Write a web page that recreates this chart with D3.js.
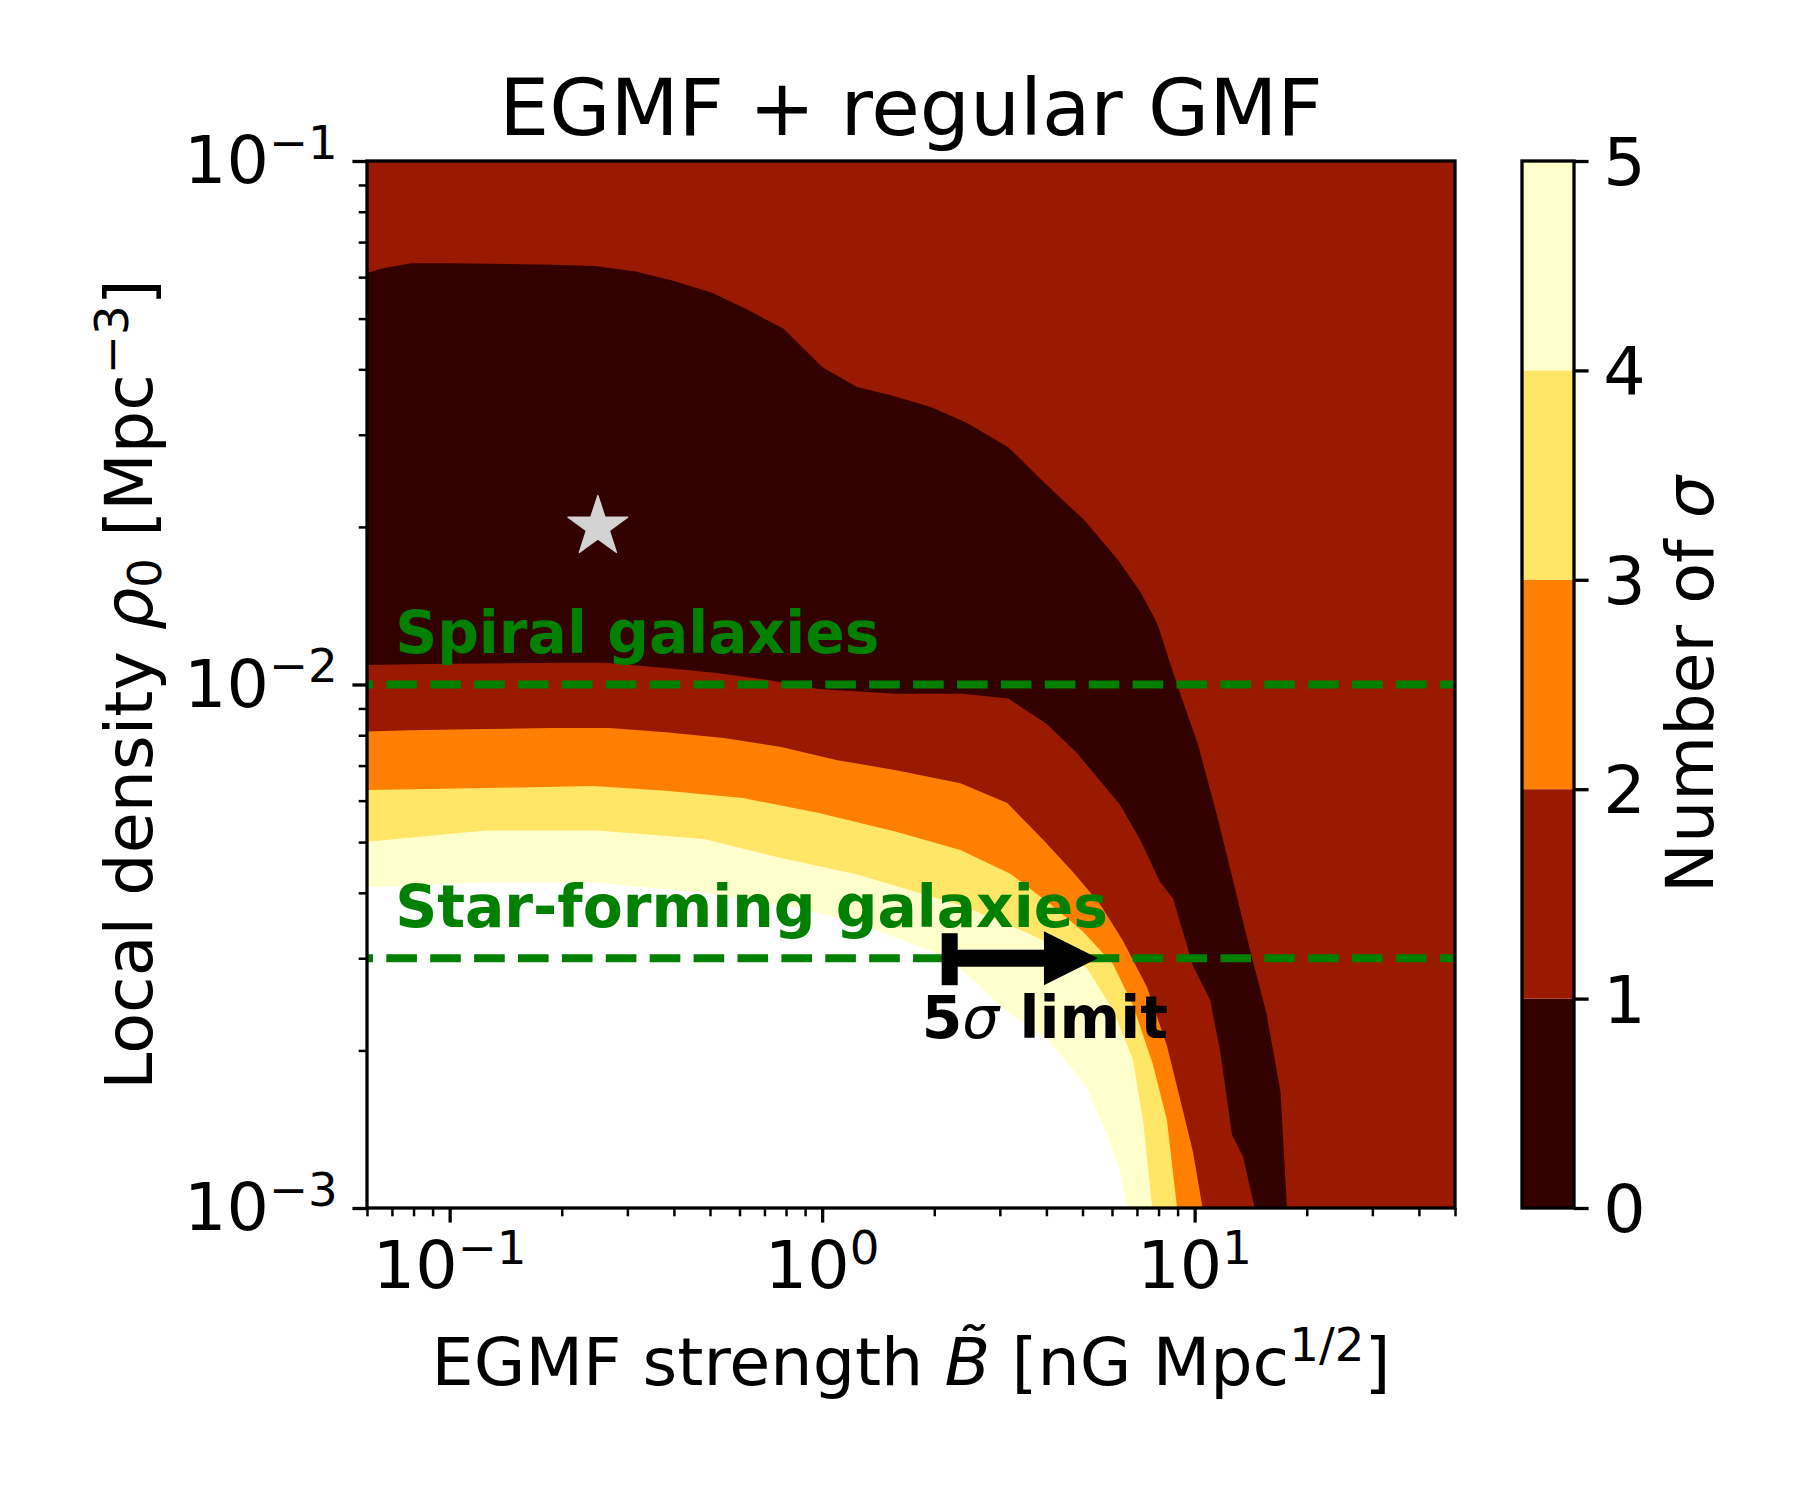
<!DOCTYPE html>
<html lang="en">
<head>
<meta charset="utf-8">
<script src="https://cdn.jsdelivr.net/npm/d3@7/dist/d3.min.js"></script>
<title>EGMF + regular GMF</title>
<style>
  body { margin: 0; background: #fff; }
  svg text { font-family: "DejaVu Sans", sans-serif; }
</style>
</head>
<body>
<svg id="chart" width="1800" height="1500"></svg>
<script>
// ---- data ----
var bRange = [0.06, 50];          // EGMF strength (x)
var rhoRange = [0.001, 0.1];      // local density (y)
var levels = [0, 1, 2, 3, 4, 5];  // number of sigma
var levelColors = ["#330000", "#991a00", "#ff8000", "#ffe666", "#ffffcc"];

// contour boundaries [B, rho], running from the left edge down to the bottom edge
var sigma1Upper = [[0.06,0.0611],[0.0637,0.0619],[0.0678,0.0626],[0.0788,0.0638],[0.1,0.0638],[0.203,0.0633],[0.246,0.063],
  [0.316,0.0615],[0.393,0.0592],[0.506,0.056],[0.633,0.0519],[0.788,0.0478],[1.0,0.0404],[1.24,0.037],[1.53,0.0357],
  [1.96,0.0339],[2.45,0.0316],[3.16,0.0284],[3.81,0.0249],[4.43,0.0225],[5.06,0.0206],[6.23,0.0173],[7.16,0.015],
  [7.93,0.0131],[8.97,0.01],[10.2,0.0077],[11.5,0.0056],[12.7,0.0042],[14.1,0.0031],[15.6,0.00235],[17.0,0.00167],[17.7,0.001]];
var sigma1Lower = [[0.06,0.0109],[0.0864,0.01094],[0.203,0.011],[0.261,0.011],[0.381,0.01075],[0.522,0.01052],[0.716,0.0102],
  [0.981,0.0098],[1.58,0.0096],[2.38,0.0096],[3.16,0.0094],[4.02,0.0084],[4.83,0.0074],[6.3,0.0059],[7.14,0.00505],
  [8.07,0.0042],[8.75,0.0039],[9.9,0.0029],[11.0,0.0025],[11.7,0.002],[12.6,0.00138],[13.5,0.00125],[14.5,0.001]];
var sigma2 = [[0.06,0.00813],[0.0783,0.00818],[0.125,0.00822],[0.187,0.00826],[0.268,0.00826],[0.381,0.00811],[0.544,0.0079],
  [0.776,0.0076],[1.10,0.00717],[1.58,0.00686],[2.35,0.00648],[3.14,0.00594],[3.92,0.00505],[4.72,0.00438],[5.57,0.00381],
  [6.42,0.00324],[7.45,0.00264],[8.43,0.00204],[9.31,0.00153],[9.9,0.00128],[10.5,0.001]];
var sigma3 = [[0.06,0.00629],[0.125,0.00634],[0.243,0.0064],[0.381,0.00627],[0.613,0.00607],[0.981,0.00568],[1.58,0.00523],
  [2.35,0.00483],[3.2,0.00435],[4.09,0.00381],[5.02,0.00337],[6.04,0.00292],[6.83,0.00244],[7.73,0.00188],[8.43,0.00147],[8.97,0.001]];
var sigma4 = [[0.06,0.00501],[0.125,0.00526],[0.249,0.00526],[0.482,0.00507],[0.776,0.00466],[1.25,0.00433],[2.35,0.00379],
  [3.2,0.00347],[4.17,0.00318],[5.14,0.00287],[6.04,0.00239],[6.83,0.00192],[7.27,0.00147],[7.69,0.001]];
var sigma5 = [[0.06,0.0041],[0.117,0.00418],[0.249,0.00418],[0.482,0.004],[0.873,0.00374],[1.25,0.0035],[2.0,0.00308],
  [2.35,0.00287],[3.0,0.00244],[4.09,0.00208],[5.14,0.0017],[5.82,0.00138],[6.3,0.00118],[6.58,0.001]];

var galaxyDensity = [0.01, 0.003];
var galaxyNames = ["Spiral galaxies", "Star-forming galaxies"];
var galaxyLabelAt = [[0.0714, 0.0115], [0.0714, 0.00344]];
var bestFit = [0.25, 0.02];
var limitFrom = 2.2, limitTo = 5.5, limitRho = 0.003;
var limitLabelAt = [1.85, 0.00211];

var xMajor = [0.1, 1, 10], xExp = ["\u22121", "0", "1"];
var yMajor = [0.001, 0.01, 0.1], yExp = ["\u22123", "\u22122", "\u22121"];

// ---- layout ----
var plot = {left: 367, right: 1455, top: 161, bottom: 1208};
var cbar = {left: 1522, right: 1574};
var fs = 66.7, fsTitle = 79, fsNote = 58.3;
var majorLen = 14.6, minorLen = 8.3, pad = 14.6;

var svg = d3.select("#chart");
svg.append("rect").attr("width", 1800).attr("height", 1500).attr("fill", "#fff");

var x = d3.scaleLog().domain(bRange).range([plot.left, plot.right]);
var y = d3.scaleLog().domain(rhoRange).range([plot.bottom, plot.top]);

svg.append("clipPath").attr("id", "clip").append("rect")
  .attr("x", plot.left).attr("y", plot.top)
  .attr("width", plot.right - plot.left).attr("height", plot.bottom - plot.top);

var g = svg.append("g").attr("clip-path", "url(#clip)");

// filled contour bands (each polygon covers everything below-left of its curve)
g.append("rect")
  .attr("x", plot.left).attr("y", plot.top)
  .attr("width", plot.right - plot.left).attr("height", plot.bottom - plot.top)
  .attr("fill", levelColors[1]);

var line = d3.line().x(function(d){ return x(d[0]); }).y(function(d){ return y(d[1]); });
var bands = [
  [sigma1Upper, levelColors[0]],
  [sigma1Lower, levelColors[1]],
  [sigma2, levelColors[2]],
  [sigma3, levelColors[3]],
  [sigma4, levelColors[4]],
  [sigma5, "#ffffff"]
];
bands.forEach(function(b){
  var pts = b[0].concat([[bRange[0], rhoRange[0]]]);
  g.append("path").attr("d", line(pts) + "Z").attr("fill", b[1]);
});

// galaxy density lines
galaxyDensity.forEach(function(r){
  g.append("line")
    .attr("x1", plot.left).attr("x2", plot.right)
    .attr("y1", y(r)).attr("y2", y(r))
    .attr("stroke", "#008000").attr("stroke-width", 8)
    .attr("stroke-dasharray", "30.6,13.3").attr("stroke-dashoffset", 24.6);
});

// best fit star
g.append("path")
  .attr("d", d3.symbol().type(d3.symbolStar).size(1100)())
  .attr("transform", "translate(" + x(bestFit[0]) + "," + y(bestFit[1]) + ")")
  .attr("fill", "#d3d3d3").attr("stroke", "#d3d3d3").attr("stroke-width", 1.5)
  .attr("stroke-linejoin", "round");

// helper for simple mathtext (super/subscripts, italics)
function mathText(sel, parts, size) {
  var shift = 0;
  parts.forEach(function(p){
    var ts = sel.append("tspan").text(p.t);
    var target = p.sup ? -0.36 * size : (p.sub ? 0.14 * size : 0);
    if (target - shift !== 0) ts.attr("dy", target - shift);
    shift = target;
    if (p.sup || p.sub) ts.attr("font-size", 0.7 * size);
    if (p.it) ts.attr("font-style", "italic");
    if (p.w) ts.attr("font-weight", p.w);
  });
  return sel;
}

// text annotations
galaxyNames.forEach(function(name, i){
  svg.append("text")
    .attr("x", x(galaxyLabelAt[i][0])).attr("y", y(galaxyLabelAt[i][1]))
    .attr("font-size", fsNote).attr("font-weight", "bold").attr("fill", "#008000")
    .text(name);
});

// 5 sigma arrow
var ay = y(limitRho), ax0 = x(limitFrom), ax1 = x(limitTo);
var headL = 54, headH = 54, shaftH = 17, barW = 16, barH = 52;
svg.append("rect").attr("x", ax0 - barW / 2).attr("y", ay - barH / 2 + 1)
  .attr("width", barW).attr("height", barH).attr("fill", "#000");
svg.append("rect").attr("x", ax0).attr("y", ay - shaftH / 2)
  .attr("width", ax1 - headL - ax0 + 2).attr("height", shaftH).attr("fill", "#000");
svg.append("path")
  .attr("d", "M" + (ax1 - headL) + "," + (ay - headH / 2) + "L" + ax1 + "," + ay + "L" + (ax1 - headL) + "," + (ay + headH / 2) + "Z")
  .attr("fill", "#000");

mathText(svg.append("text")
  .attr("x", x(limitLabelAt[0])).attr("y", y(limitLabelAt[1]))
  .attr("font-size", fsNote).attr("font-weight", "bold").attr("fill", "#000"),
  [{t: "5"}, {t: "\u03c3", it: true, w: "normal"}, {t: " limit"}], fsNote);

// ---- axes ----
function styleTicks(sel, w) {
  sel.select(".domain").remove();
  sel.selectAll(".tick line").attr("stroke", "#000").attr("stroke-width", w);
  sel.selectAll(".tick text").remove();
}
function isMajor(v) {
  var l = Math.log10(v);
  return Math.abs(l - Math.round(l)) < 1e-6;
}

var xMinor = x.ticks().filter(function(v){ return !isMajor(v); });
var yMinor = y.ticks().filter(function(v){ return !isMajor(v); });

svg.append("g").attr("transform", "translate(0," + plot.bottom + ")")
  .call(d3.axisBottom(x).tickValues(xMinor).tickSize(minorLen).tickFormat(""))
  .call(styleTicks, 2.5);
svg.append("g").attr("transform", "translate(0," + plot.bottom + ")")
  .call(d3.axisBottom(x).tickValues(xMajor).tickSize(majorLen).tickFormat(""))
  .call(styleTicks, 3.3);
svg.append("g").attr("transform", "translate(" + plot.left + ",0)")
  .call(d3.axisLeft(y).tickValues(yMinor).tickSize(minorLen).tickFormat(""))
  .call(styleTicks, 2.5);
svg.append("g").attr("transform", "translate(" + plot.left + ",0)")
  .call(d3.axisLeft(y).tickValues(yMajor).tickSize(majorLen).tickFormat(""))
  .call(styleTicks, 3.3);

xMajor.forEach(function(v, i){
  mathText(svg.append("text").attr("x", x(v)).attr("y", plot.bottom + 80)
    .attr("text-anchor", "middle").attr("font-size", fs),
    [{t: "10"}, {t: xExp[i], sup: true}], fs);
});
yMajor.forEach(function(v, i){
  mathText(svg.append("text").attr("x", plot.left - majorLen - pad).attr("y", y(v) + 22)
    .attr("text-anchor", "end").attr("font-size", fs),
    [{t: "10"}, {t: yExp[i], sup: true}], fs);
});

svg.append("rect")
  .attr("x", plot.left).attr("y", plot.top)
  .attr("width", plot.right - plot.left).attr("height", plot.bottom - plot.top)
  .attr("fill", "none").attr("stroke", "#000").attr("stroke-width", 3.3);

// axis labels and title
mathText(svg.append("text").attr("x", (plot.left + plot.right) / 2).attr("y", 1385)
  .attr("text-anchor", "middle").attr("font-size", fs),
  [{t: "EGMF strength "}, {t: "B\u0303", it: true}, {t: " [nG Mpc"}, {t: "1/2", sup: true}, {t: "]"}], fs);

mathText(svg.append("text")
  .attr("transform", "translate(152," + (plot.top + plot.bottom) / 2 + ") rotate(-90)")
  .attr("text-anchor", "middle").attr("font-size", fs),
  [{t: "Local density "}, {t: "\u03c1", it: true}, {t: "0", sub: true}, {t: " [Mpc"}, {t: "\u22123", sup: true}, {t: "]"}], fs);

svg.append("text").attr("x", (plot.left + plot.right) / 2).attr("y", 135)
  .attr("text-anchor", "middle").attr("font-size", fsTitle)
  .text("EGMF + regular GMF");

// ---- colorbar ----
var cb = d3.scaleLinear().domain([levels[0], levels[levels.length - 1]]).range([plot.bottom, plot.top]);
svg.selectAll(".cbband").data(levelColors).enter().append("rect")
  .attr("x", cbar.left).attr("width", cbar.right - cbar.left)
  .attr("y", function(d, i){ return cb(levels[i + 1]); })
  .attr("height", function(d, i){ return cb(levels[i]) - cb(levels[i + 1]); })
  .attr("fill", function(d){ return d; });
svg.append("rect")
  .attr("x", cbar.left).attr("y", plot.top)
  .attr("width", cbar.right - cbar.left).attr("height", plot.bottom - plot.top)
  .attr("fill", "none").attr("stroke", "#000").attr("stroke-width", 3.3);
svg.append("g").attr("transform", "translate(" + cbar.right + ",0)")
  .call(d3.axisRight(cb).tickValues(levels).tickSize(majorLen).tickFormat(""))
  .call(styleTicks, 3.3);
levels.forEach(function(v){
  svg.append("text").attr("x", cbar.right + majorLen + pad).attr("y", cb(v) + 24)
    .attr("font-size", fs).text(v);
});
mathText(svg.append("text")
  .attr("transform", "translate(1713," + (plot.top + plot.bottom) / 2 + ") rotate(-90)")
  .attr("text-anchor", "middle").attr("font-size", fs),
  [{t: "Number of "}, {t: "\u03c3", it: true}], fs);
</script>
</body>
</html>
